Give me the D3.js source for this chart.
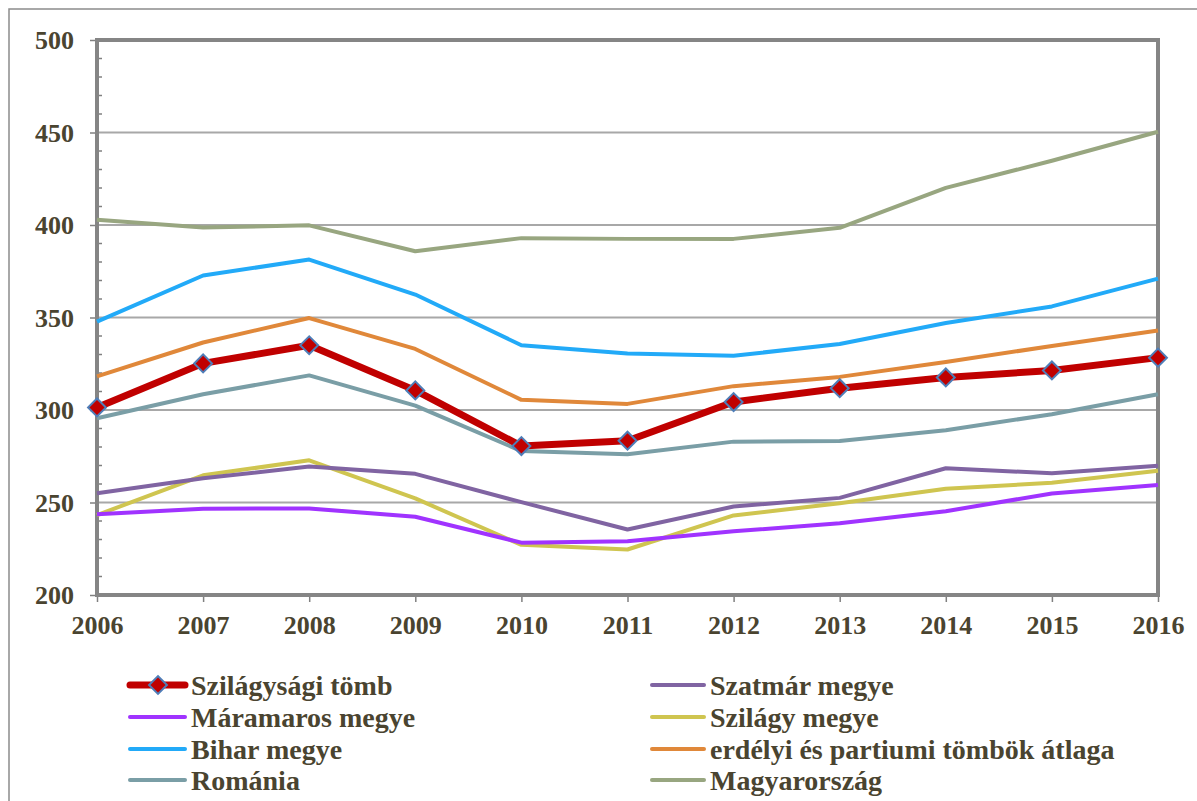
<!DOCTYPE html>
<html lang="hu">
<head>
<meta charset="utf-8">
<title>Szilágysági tömb</title>
<script src="https://d3js.org/d3.v7.min.js"></script>
<style>
  body { margin: 0; background: #fff; }
  text { font-family: "Liberation Serif", "Times New Roman", serif; font-weight: bold; fill: #4a4430; }
</style>
</head>
<body>
<div id="chart"></div>
<script>
// data
var years = [2006, 2007, 2008, 2009, 2010, 2011, 2012, 2013, 2014, 2015, 2016];
var yTicks = [200, 250, 300, 350, 400, 450, 500];

var szilagysagiTomb = [301.4, 325.2, 335.0, 310.6, 280.5, 283.4, 304.3, 311.8, 317.6, 321.4, 328.3];
var szatmar = [255.0, 263.1, 269.4, 265.5, 250.2, 235.4, 247.8, 252.5, 268.5, 265.8, 269.8];
var maramaros = [243.7, 246.6, 246.8, 242.3, 228.3, 229.0, 234.4, 238.8, 245.3, 254.9, 259.5];
var szilagy = [243.2, 264.7, 272.8, 252.2, 227.1, 224.6, 243.0, 249.6, 257.4, 260.7, 267.2];
var bihar = [347.8, 372.7, 381.3, 362.4, 335.0, 330.5, 329.3, 335.7, 347.0, 356.0, 371.0];
var erdelyiAtlag = [318.2, 336.5, 349.7, 333.0, 305.5, 303.3, 312.9, 317.9, 326.0, 334.6, 343.0];
var romania = [295.5, 308.5, 318.7, 302.4, 277.8, 276.1, 282.9, 283.3, 289.1, 297.7, 308.5];
var magyarorszag = [402.9, 398.6, 399.8, 385.8, 392.9, 392.5, 392.5, 398.5, 420.1, 434.7, 450.4];

var seriesNames = ["Szilágysági tömb", "Szatmár megye", "Máramaros megye", "Szilágy megye",
  "Bihar megye", "erdélyi és partiumi tömbök átlaga", "Románia", "Magyarország"];
var seriesValues = [szilagysagiTomb, szatmar, maramaros, szilagy, bihar, erdelyiAtlag, romania, magyarorszag];
var seriesColors = ["#c00000", "#8064a2", "#a033ff", "#cfc550", "#22aaf8", "#e0883a", "#7a9ea6", "#98a680"];

var w = 1197, h = 801;
var pLeft = 97, pRight = 1158, pTop = 40, pBottom = 595;

var svg = d3.select("#chart").append("svg")
  .attr("width", w).attr("height", h);

// outer frame (runs off the right and bottom edge)
svg.append("rect")
  .attr("x", 9).attr("y", 9).attr("width", 1400).attr("height", 1000)
  .attr("fill", "none").attr("stroke", "#8c8c8c").attr("stroke-width", 1.5);

var xScale = d3.scaleLinear().domain([2006, 2016]).range([pLeft, pRight]);
var yScale = d3.scaleLinear().domain([200, 500]).range([pBottom, pTop]);

// gridlines
svg.append("g").selectAll("line")
  .data(yTicks.filter(function(d) { return d > 200 && d < 500; }))
  .enter().append("line")
  .attr("x1", pLeft).attr("x2", pRight)
  .attr("y1", function(d) { return yScale(d); })
  .attr("y2", function(d) { return yScale(d); })
  .attr("stroke", "#a8a8a8").attr("stroke-width", 2);

// minor ticks every 10, inside
var minor = d3.range(210, 500, 10).filter(function(d) { return d % 50 != 0; });
svg.append("g").selectAll("line")
  .data(minor).enter().append("line")
  .attr("x1", pLeft).attr("x2", pLeft + 5)
  .attr("y1", function(d) { return yScale(d); })
  .attr("y2", function(d) { return yScale(d); })
  .attr("stroke", "#808080").attr("stroke-width", 1.5);

// y axis
var yAxis = d3.axisLeft(yScale).tickValues(yTicks).tickSize(7).tickPadding(16);
var gy = svg.append("g").attr("transform", "translate(" + pLeft + ",0)").call(yAxis);
gy.select(".domain").remove();
gy.selectAll("line").attr("stroke", "#808080").attr("stroke-width", 1.5);
gy.selectAll("text").style("font-size", "26px").attr("dy", "0.34em");

// x axis
var xAxis = d3.axisBottom(xScale).tickValues(years).tickFormat(d3.format("d")).tickSize(7).tickPadding(14);
var gx = svg.append("g").attr("transform", "translate(0," + pBottom + ")").call(xAxis);
gx.select(".domain").remove();
gx.selectAll("line").attr("stroke", "#808080").attr("stroke-width", 1.5);
gx.selectAll("text").style("font-size", "26px");

// plot border
svg.append("rect")
  .attr("x", pLeft).attr("y", pTop)
  .attr("width", pRight - pLeft).attr("height", pBottom - pTop)
  .attr("fill", "none").attr("stroke", "#858585").attr("stroke-width", 4);

var line = d3.line()
  .x(function(d, i) { return xScale(years[i]); })
  .y(function(d) { return yScale(d); });

// draw the other series first, red one on top
for (var k = seriesValues.length - 1; k >= 0; k--) {
  svg.append("path")
    .datum(seriesValues[k])
    .attr("d", line)
    .attr("fill", "none")
    .attr("stroke", seriesColors[k])
    .attr("stroke-width", k == 0 ? 7 : 4)
    .attr("stroke-linejoin", "round");
}

var diamond = d3.symbol().type(d3.symbolSquare).size(160);
svg.append("g").selectAll("path")
  .data(szilagysagiTomb).enter().append("path")
  .attr("d", diamond)
  .attr("transform", function(d, i) {
    return "translate(" + xScale(years[i]) + "," + yScale(d) + ") rotate(45)";
  })
  .attr("fill", "#c00000").attr("stroke", "#4f7eb8").attr("stroke-width", 2);

// legend, two columns
var legend = svg.append("g");
var colX = [130, 652];
var colLen = [55, 52];
var rowY = [685, 717, 749, 780];
seriesNames.forEach(function(name, k) {
  var c = k % 2;
  var g = legend.append("g")
    .attr("transform", "translate(" + colX[c] + "," + rowY[Math.floor(k / 2)] + ")");
  g.append("line")
    .attr("x1", 0).attr("x2", colLen[c])
    .attr("stroke", seriesColors[k])
    .attr("stroke-width", k == 0 ? 7 : 4)
    .attr("stroke-linecap", "round");
  if (k == 0) {
    g.append("path").attr("d", diamond)
      .attr("transform", "translate(28,0) rotate(45)")
      .attr("fill", "#c00000").attr("stroke", "#4f7eb8").attr("stroke-width", 2);
  }
  g.append("text")
    .attr("x", colLen[c] + 6).attr("dy", "0.34em")
    .style("font-size", "28px")
    .text(name);
});
</script>
</body>
</html>
